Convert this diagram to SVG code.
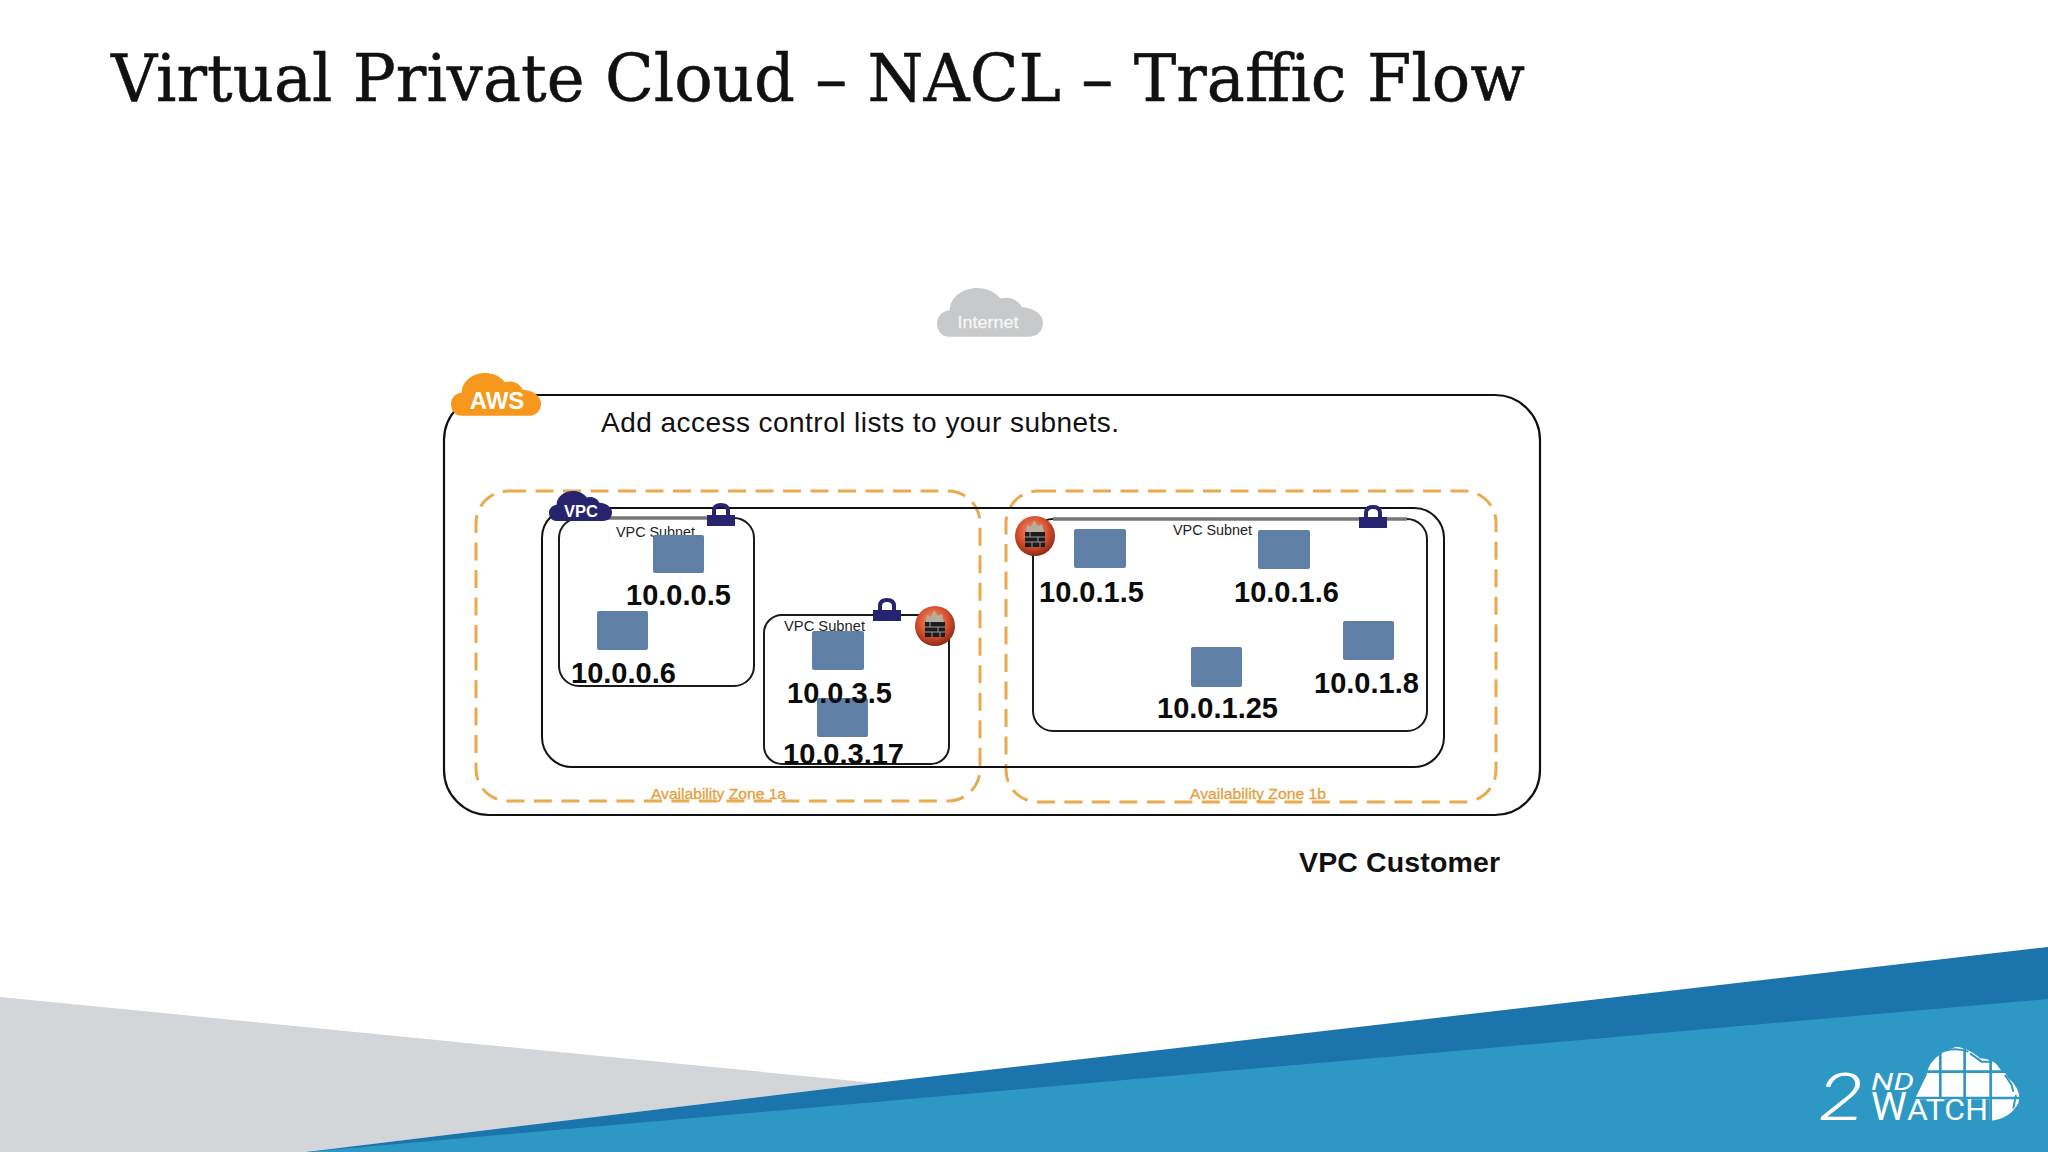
<svg xmlns="http://www.w3.org/2000/svg" width="2048" height="1152" viewBox="0 0 2048 1152">
<style>
.box{fill:none;stroke:#111;stroke-width:2}
.outer{stroke-width:2.2}
.sub{fill:none;stroke:#1a1a1a;stroke-width:2}
.subtop{fill:none;stroke:#777;stroke-width:3.5}
.az{fill:none;stroke:#e9aa50;stroke-width:3;stroke-dasharray:18 9.5}
.azt{font:15px "Liberation Sans",Arial,sans-serif;fill:#e5a03c;stroke:#e5a03c;stroke-width:.3}
.inst{fill:#5f7fa6}
.ip{font:bold 29px "Liberation Sans",Arial,sans-serif;fill:#0c0c0c}
.st{font:14.5px "Liberation Sans",Arial,sans-serif;fill:#222}
.sans{font-family:"Liberation Sans",Arial,sans-serif}
.logo{font-family:Roboto,"Liberation Sans",sans-serif;fill:#fff}
</style>
<defs>
<path id="cloud" d="M12,46C4,46 0,40 0,33C0,27 5,22 12,21C12,9 24,0 38,0C48,0 55,4 60,10C66,8 75,9 80,18C92,19 100,25 100,33C100,41 94,46 86,46Z"/>
<g id="lock"><rect x="0" y="12" width="28" height="11" fill="#27246f"/><path d="M7,13V8Q7,2 14,2Q21,2 21,8V13" fill="none" stroke="#27246f" stroke-width="4"/></g>
<radialGradient id="fwg" cx="0.45" cy="0.38" r="0.62"><stop offset="0" stop-color="#f09a78"/><stop offset="0.6" stop-color="#d8502e"/><stop offset="1" stop-color="#8f2a16"/></radialGradient>
<g id="fw"><circle r="20" fill="url(#fwg)"/><path d="M-9,-4L-8,-11L-4,-9L-1,-16L3,-10L7,-12L9,-4Z" fill="#b5ad9e"/><rect x="-10" y="-4" width="20" height="15" fill="#1c1c1c"/><path d="M-10,1H10M-10,6H10M-5,-4V1M3,1V6M-3,6V11M5,6V11" stroke="#9a9a9a" stroke-width="1"/></g>
</defs>

<g id="background">
<polygon points="0,997 875,1083 306,1152 0,1152" fill="#d2d6d9"/>
<polygon points="306,1152 875,1083 2048,947 2048,1152" fill="#1b74ac"/>
<polygon points="306,1152 1000,1091 2048,999 2048,1152" fill="#2e98c5"/>
</g>

<text id="title" x="111" y="101" font-family="'DejaVu Serif','Liberation Serif',serif" font-size="65" fill="#111" stroke="#111" stroke-width=".5" textLength="1414" lengthAdjust="spacingAndGlyphs">Virtual Private Cloud – NACL – Traffic Flow</text>

<g id="internet">
<use href="#cloud" transform="translate(937,288) scale(1.06)" fill="#c8c9cb"/>
<text x="988" y="328" text-anchor="middle" class="sans" font-size="17" fill="#f6f6f6" stroke="#f6f6f6" stroke-width=".3" textLength="61" lengthAdjust="spacingAndGlyphs">Internet</text>
</g>

<g id="aws-region">
<rect x="444" y="395" width="1096" height="420" rx="45" class="box outer"/>
</g>

<g id="az-1a">
<rect x="476" y="491" width="504" height="310" rx="32" class="az"/>
<text x="651" y="799" class="azt" textLength="135" lengthAdjust="spacingAndGlyphs">Availability Zone 1a</text>
</g>
<g id="az-1b">
<rect x="1006" y="491" width="490" height="311" rx="32" class="az"/>
<text x="1190" y="799" class="azt" textLength="136" lengthAdjust="spacingAndGlyphs">Availability Zone 1b</text>
</g>

<g id="vpc">
<rect x="542" y="508" width="902" height="259" rx="30" class="box"/>
</g>

<g id="subnet-1a-1">
<rect x="559" y="518" width="195" height="168" rx="20" class="sub"/>
<path d="M579,518H734" class="subtop"/>
<text x="616" y="537" class="st" textLength="79" lengthAdjust="spacingAndGlyphs">VPC Subnet</text>
<use href="#lock" x="707" y="503"/>
</g>
<g id="subnet-1a-2">
<rect x="764" y="615" width="185" height="149" rx="18" class="sub"/>
<text x="784" y="631" class="st" textLength="81" lengthAdjust="spacingAndGlyphs">VPC Subnet</text>
<use href="#lock" x="873" y="598"/>
<use href="#fw" x="935" y="626"/>
</g>
<g id="subnet-1b">
<rect x="1033" y="519" width="394" height="212" rx="20" class="sub"/>
<path d="M1053,519H1407" class="subtop"/>
<text x="1173" y="535" class="st" textLength="79" lengthAdjust="spacingAndGlyphs">VPC Subnet</text>
<use href="#lock" x="1359" y="505"/>
<use href="#fw" x="1035" y="536"/>
</g>

<g id="i-10-0-0-5"><rect x="653" y="535" width="51" height="38" rx="2" class="inst"/><text x="626" y="605" class="ip">10.0.0.5</text></g>
<g id="i-10-0-0-6"><rect x="597" y="611" width="51" height="39" rx="2" class="inst"/><text x="571" y="683" class="ip">10.0.0.6</text></g>
<g id="i-10-0-3-5"><rect x="812" y="631" width="52" height="39" rx="2" class="inst"/></g>
<g id="i-10-0-3-17"><rect x="817" y="698" width="51" height="39" rx="2" class="inst"/><text x="783" y="764" class="ip">10.0.3.17</text></g>
<text id="label-10-0-3-5" x="787" y="703" class="ip">10.0.3.5</text>
<g id="i-10-0-1-5"><rect x="1074" y="529" width="52" height="39" rx="2" class="inst"/><text x="1039" y="602" class="ip">10.0.1.5</text></g>
<g id="i-10-0-1-6"><rect x="1258" y="530" width="52" height="39" rx="2" class="inst"/><text x="1234" y="602" class="ip">10.0.1.6</text></g>
<g id="i-10-0-1-25"><rect x="1191" y="647" width="51" height="40" rx="2" class="inst"/><text x="1157" y="718" class="ip">10.0.1.25</text></g>
<g id="i-10-0-1-8"><rect x="1343" y="621" width="51" height="39" rx="2" class="inst"/><text x="1314" y="693" class="ip">10.0.1.8</text></g>

<g id="aws-badge">
<use href="#cloud" transform="translate(451,373) scale(0.9,0.93)" fill="#f7981d"/>
<text x="497" y="409" text-anchor="middle" class="sans" font-weight="bold" font-size="24" fill="#fff">AWS</text>
</g>
<g id="vpc-badge">
<use href="#cloud" transform="translate(549,491) scale(0.63,0.65)" fill="#27246f"/>
<text x="581" y="517" text-anchor="middle" class="sans" font-weight="bold" font-size="16.5" fill="#fff">VPC</text>
</g>

<text id="caption" x="601" y="432" class="sans" font-size="28" fill="#111" textLength="518">Add access control lists to your subnets.</text>
<text id="vpc-customer" x="1299" y="872" class="sans" font-weight="bold" font-size="28.5" fill="#111" textLength="201">VPC Customer</text>

<g id="logo">
<g transform="translate(1760,1020) scale(0.3333)">
<path d="M465,236L500,165C505,125 540,95 590,80C620,85 645,100 660,115C700,115 730,145 745,175C770,195 785,225 775,250C760,280 725,302 690,302H465Z" fill="#fff"/>
<path d="M541,80V240M614,80V240M692,95V310M480,155H760M465,234H785" stroke="#2e98c5" stroke-width="8" fill="none"/>
<rect x="450" y="238" width="238" height="70" fill="#2e98c5"/>
<path d="M555,92Q590,82 625,95M630,100L665,125L695,125M705,122L730,155M735,165L755,195L760,215M768,225L760,265" fill="none" stroke="#2e98c5" stroke-width="6"/>
</g>
<text x="1819" y="1120" class="logo" font-size="66" font-weight="300" font-style="italic" textLength="44" lengthAdjust="spacingAndGlyphs">2</text>
<text x="1871" y="1090" class="logo" font-size="23" font-weight="400" font-style="italic" textLength="43" lengthAdjust="spacingAndGlyphs">ND</text>
<text x="1871" y="1120" class="logo" font-weight="400" font-size="30" textLength="117" lengthAdjust="spacingAndGlyphs"><tspan font-size="38">W</tspan>ATCH</text>
</g>
</svg>
